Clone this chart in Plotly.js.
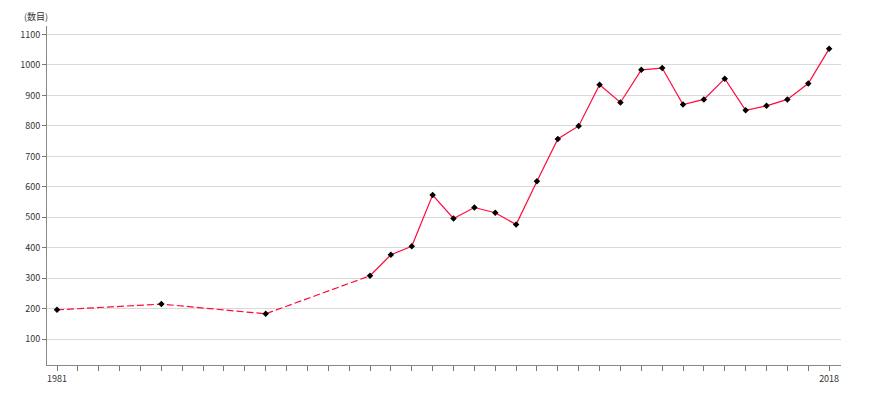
<!DOCTYPE html>
<html>
<head>
<meta charset="utf-8">
<script src="https://cdn.plot.ly/plotly-3.0.1.min.js"></script>
<style>html,body{margin:0;padding:0;background:#fff;}#chart{width:870px;height:400px;}</style>
</head>
<body>
<div id="chart"></div>
<script>
const years = [1981, 1986, 1991, 1996, 1997, 1998, 1999, 2000, 2001, 2002, 2003, 2004, 2005, 2006, 2007, 2008, 2009, 2010, 2011, 2012, 2013, 2014, 2015, 2016, 2017, 2018];
const counts = [196, 215, 183, 308, 377, 405, 573, 496, 532, 515, 476, 618, 757, 800, 935, 877, 984, 990, 870, 887, 955, 851, 866, 887, 939, 1053];
const yTicks = [100, 200, 300, 400, 500, 600, 700, 800, 900, 1000, 1100];
const labeledYears = [1981, 2018];
const yTitle = '(数目)';

const splitIdx = years.indexOf(1996);
const allYears = [];
for (let y = years[0]; y <= years[years.length - 1]; y++) allYears.push(y);
const xText = allYears.map(y => labeledYears.includes(y) ? String(y) : '');

const lineColor = '#ff0a3c';
const traces = [
  {x: years.slice(0, splitIdx + 1), y: counts.slice(0, splitIdx + 1), mode: 'lines', type: 'scatter',
   line: {color: lineColor, width: 1.2, dash: '7px,3px'}, hoverinfo: 'skip'},
  {x: years.slice(splitIdx), y: counts.slice(splitIdx), mode: 'lines', type: 'scatter',
   line: {color: lineColor, width: 1.2}, hoverinfo: 'skip'},
  {x: years, y: counts, mode: 'markers', type: 'scatter',
   marker: {symbol: 'diamond', size: 5, color: '#000'}}
];

const font = {family: '"Noto Sans CJK JP", "Noto Sans", sans-serif', size: 9, color: '#333'};
const layout = {
  width: 870, height: 400,
  margin: {l: 47, r: 29, t: 26, b: 35},
  paper_bgcolor: '#fff', plot_bgcolor: '#fff',
  showlegend: false,
  font: font,
  xaxis: {
    range: [1980.52, 2018.57],
    tickmode: 'array', tickvals: allYears, ticktext: xText,
    ticks: 'outside', ticklen: 5, tickcolor: '#777', tickwidth: 1,
    showgrid: false, zeroline: false,
    showline: true, linecolor: '#888', linewidth: 1,
    tickfont: font
  },
  yaxis: {
    range: [15, 1128],
    tickmode: 'array', tickvals: yTicks,
    ticks: 'outside', ticklen: 4, tickcolor: '#777',
    showgrid: true, gridcolor: '#d9d9d9', gridwidth: 1,
    zeroline: false,
    showline: true, linecolor: '#888', linewidth: 1,
    tickfont: font
  },
  annotations: [{
    text: yTitle, xref: 'paper', yref: 'paper',
    x: -0.031, y: 1.028, xanchor: 'left', yanchor: 'middle',
    showarrow: false, font: font
  }]
};

Plotly.newPlot('chart', traces, layout, {staticPlot: true, displayModeBar: false});
</script>
</body>
</html>
